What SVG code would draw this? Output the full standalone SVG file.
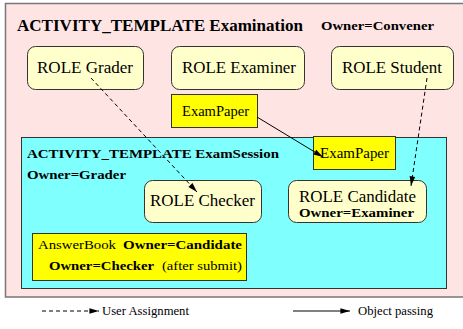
<svg xmlns="http://www.w3.org/2000/svg" width="463" height="329" viewBox="0 0 463 329" font-family="'Liberation Serif', 'Times New Roman', serif">
  <style>
    .b { font-weight: bold; }
    .role { fill: #ffffcc; stroke: #333; stroke-width: 1; }
    .obj { fill: #ffff00; stroke: #333; stroke-width: 1; }
    .dash { stroke: #000; stroke-width: 1; stroke-dasharray: 4 3; fill: none; }
    .solid { stroke: #000; stroke-width: 1; fill: none; }
  </style>
  <defs>
    <marker id="ah" viewBox="0 0 12 10" refX="12" refY="5" markerWidth="12" markerHeight="8" markerUnits="userSpaceOnUse" orient="auto">
      <path d="M0,1.5 L12,5 L0,8.5 Z" fill="#000"/>
    </marker>
  </defs>

  <!-- outer activity template -->
  <g id="examination">
    <rect x="5.5" y="3.5" width="462" height="293.5" fill="#ffe4e4" stroke="#777" stroke-width="1.5"/>
    <text x="17" y="31" class="b" font-size="16" textLength="286" lengthAdjust="spacingAndGlyphs">ACTIVITY_TEMPLATE Examination</text>
    <text x="321" y="30" class="b" font-size="12.5" textLength="113" lengthAdjust="spacingAndGlyphs">Owner=Convener</text>
  </g>

  <g id="role-grader">
    <rect class="role" x="27.5" y="46.5" width="116" height="43" rx="8"/>
    <text x="37" y="73" font-size="17" textLength="96" lengthAdjust="spacingAndGlyphs">ROLE Grader</text>
  </g>
  <g id="role-examiner">
    <rect class="role" x="171.5" y="46.5" width="133" height="43" rx="8"/>
    <text x="182" y="73" font-size="17" textLength="114" lengthAdjust="spacingAndGlyphs">ROLE Examiner</text>
  </g>
  <g id="role-student">
    <rect class="role" x="331.5" y="46.5" width="122" height="43" rx="8"/>
    <text x="342" y="73" font-size="17" textLength="100" lengthAdjust="spacingAndGlyphs">ROLE Student</text>
  </g>
  <g id="exampaper-outer">
    <rect class="obj" x="171.5" y="94.5" width="86" height="33"/>
    <text x="182" y="116" font-size="14.5" textLength="67" lengthAdjust="spacingAndGlyphs">ExamPaper</text>
  </g>

  <!-- inner activity template -->
  <g id="examsession">
    <rect x="21.5" y="137.5" width="425" height="151" fill="#80ffff" stroke="#333" stroke-width="1"/>
    <text x="27" y="158" class="b" font-size="13.5" textLength="252" lengthAdjust="spacingAndGlyphs">ACTIVITY_TEMPLATE ExamSession</text>
    <text x="27" y="179" class="b" font-size="13.5" textLength="99" lengthAdjust="spacingAndGlyphs">Owner=Grader</text>
  </g>
  <g id="exampaper-inner">
    <rect class="obj" x="313.5" y="136.5" width="82" height="33"/>
    <text x="320" y="158" font-size="14.5" textLength="69" lengthAdjust="spacingAndGlyphs">ExamPaper</text>
  </g>
  <g id="role-checker">
    <rect class="role" x="144.5" y="180.5" width="117" height="42" rx="8"/>
    <text x="150" y="206" font-size="17" textLength="105" lengthAdjust="spacingAndGlyphs">ROLE Checker</text>
  </g>
  <g id="role-candidate">
    <rect class="role" x="288.5" y="180.5" width="138" height="42" rx="8"/>
    <text x="299" y="202" font-size="17" textLength="117" lengthAdjust="spacingAndGlyphs">ROLE Candidate</text>
    <text x="299" y="217" class="b" font-size="13.5" textLength="115" lengthAdjust="spacingAndGlyphs">Owner=Examiner</text>
  </g>
  <g id="answerbook">
    <rect class="obj" x="32.5" y="233.5" width="214" height="47"/>
    <text x="38" y="249" font-size="13.5" textLength="78" lengthAdjust="spacingAndGlyphs">AnswerBook</text>
    <text x="123" y="249" class="b" font-size="13.5" textLength="119" lengthAdjust="spacingAndGlyphs">Owner=Candidate</text>
    <text x="49" y="270" class="b" font-size="13.5" textLength="105" lengthAdjust="spacingAndGlyphs">Owner=Checker</text>
    <text x="162" y="270" font-size="13.5" textLength="80" lengthAdjust="spacingAndGlyphs">(after submit)</text>
  </g>

  <!-- connectors -->
  <g id="connectors">
    <line class="dash" x1="91" y1="78" x2="197" y2="192" marker-end="url(#ah)"/>
    <line class="dash" x1="427" y1="78" x2="411" y2="186" marker-end="url(#ah)"/>
    <line class="solid" x1="257" y1="117" x2="323" y2="157" marker-end="url(#ah)"/>
  </g>

  <!-- legend -->
  <g id="legend">
    <line class="dash" x1="42" y1="311" x2="99" y2="311" marker-end="url(#ah)"/>
    <text x="102" y="315" font-size="12" textLength="87" lengthAdjust="spacingAndGlyphs">User Assignment</text>
    <line class="solid" x1="293" y1="311" x2="350" y2="311" marker-end="url(#ah)"/>
    <text x="358" y="315" font-size="12" textLength="75" lengthAdjust="spacingAndGlyphs">Object passing</text>
  </g>
</svg>
